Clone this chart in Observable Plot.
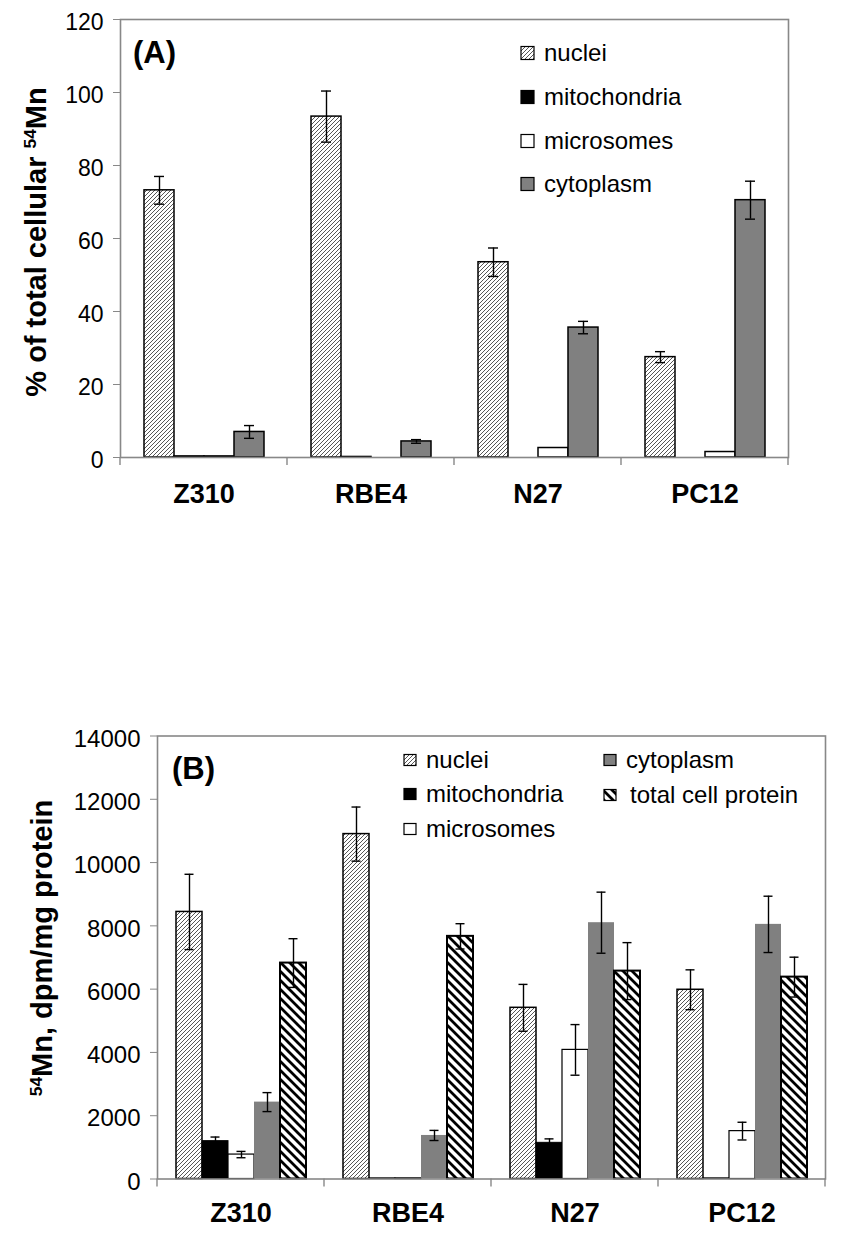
<!DOCTYPE html>
<html><head><meta charset="utf-8">
<script src="https://cdn.jsdelivr.net/npm/d3@7"></script>
<script src="https://cdn.jsdelivr.net/npm/@observablehq/plot@0.6"></script>
<style>
html,body{margin:0;padding:0;background:#fff}
body{width:850px;height:1251px;position:relative;overflow:hidden;font-family:"Liberation Sans",Arial,sans-serif}
#panelA{position:absolute;left:0;top:0}
#panelB{position:absolute;left:0;top:700px}
</style></head><body>
<svg width="0" height="0" style="position:absolute">
<defs>
<pattern id="hatchNuclei" patternUnits="userSpaceOnUse" width="4" height="4">
<rect width="4" height="4" fill="#fff"/>
<path d="M-1,1 l2,-2 M0,4 l4,-4 M3,5 l2,-2" stroke="#444" stroke-width="0.9"/>
</pattern>
<pattern id="hatchTotal" patternUnits="userSpaceOnUse" width="9" height="9">
<rect width="9" height="9" fill="#fff"/>
<path d="M0,0 l9,9 M-2,7 l4,4 M7,-2 l4,4" stroke="#000" stroke-width="2.8"/>
</pattern>
</defs></svg>
<div id="panelA"></div>
<div id="panelB"></div>
<script>
// ---------- data ----------
const categories = ["Z310", "RBE4", "N27", "PC12"];

// Panel A: % of total cellular 54Mn
const seriesA = ["nuclei", "mitochondria", "microsomes", "cytoplasm"];
const nucleiA = [73.2, 93.4, 53.5, 27.5];
const nucleiAErr = [3.8, 7.0, 3.9, 1.5];
const mitoA = [0.3, 0.15, null, null];
const microA = [0.3, null, 2.6, 1.5];
const cytoA = [7.0, 4.4, 35.6, 70.5];
const cytoAErr = [1.75, 0.5, 1.7, 5.2];
const yTicksA = [0, 20, 40, 60, 80, 100, 120];

// Panel B: 54Mn, dpm/mg protein
const seriesB = ["nuclei", "mitochondria", "microsomes", "cytoplasm", "total cell protein"];
const nucleiB = [8440, 10900, 5410, 5980];
const nucleiBErr = [1190, 855, 740, 630];
const mitoB = [1196, 20, 1143, 20];
const mitoBErr = [130, null, 125, null];
const microB = [772, 20, 4080, 1513];
const microBErr = [100, null, 800, 280];
const cytoB = [2430, 1376, 8100, 8047];
const cytoBErr = [300, 160, 965, 890];
const totalB = [6824, 7668, 6570, 6380];
const totalBErr = [770, 400, 900, 630];
const yTicksB = [0, 2000, 4000, 6000, 8000, 10000, 12000, 14000];

// ---------- helpers ----------
function rows(name, values, errs) {
  return categories.map((c, i) => ({cat: c, series: name, value: values[i], err: errs ? errs[i] : null}))
    .filter(d => d.value != null);
}

const FONT = '"Liberation Sans", Arial, sans-serif';

function panel(cfg) {
  const marks = [];
  for (const g of cfg.groups) {
    marks.push(Plot.barY(g.rows, {fx: "cat", x: "series", y: "value", fill: g.fill,
      stroke: g.stroke || "none", strokeWidth: g.sw || 0}));
  }
  const withErr = cfg.groups.flatMap(g => g.rows).filter(d => d.err != null);
  marks.push(Plot.ruleX(withErr, {fx: "cat", x: "series", y1: d => d.value - d.err, y2: d => d.value + d.err, stroke: "black", strokeWidth: 1.4}));
  marks.push(Plot.tickY(withErr, {fx: "cat", x: "series", y: d => d.value + d.err, stroke: "black", strokeWidth: 1.4, insetLeft: cfg.capInset, insetRight: cfg.capInset}));
  marks.push(Plot.tickY(withErr, {fx: "cat", x: "series", y: d => d.value - d.err, stroke: "black", strokeWidth: 1.4, insetLeft: cfg.capInset, insetRight: cfg.capInset}));
  marks.push(Plot.frame({stroke: "#888", strokeWidth: 1.6, facet: "super"}));
  marks.push(Plot.axisY({ticks: cfg.yTicks, tickSize: 7, tickPadding: 10, tickFormat: d => String(d),
    stroke: "#888", fill: "black", fontSize: cfg.tickFont, label: null}));
  marks.push(Plot.axisFx({anchor: "bottom", tickSize: 0, tickPadding: cfg.labelPad, label: null,
    fontSize: 27, fontWeight: "bold", fill: "black"}));
  const plot = Plot.plot({
    width: 850, height: cfg.height,
    marginTop: cfg.mt, marginBottom: cfg.mb, marginLeft: cfg.ml, marginRight: cfg.mr,
    fx: {domain: categories, padding: 0},
    x: {domain: cfg.series, paddingInner: 0, paddingOuter: cfg.padOuter, axis: null},
    y: {domain: [0, cfg.yMax]},
    style: {fontFamily: FONT, color: "black", background: "white", overflow: "visible"},
    marks
  });
  const svg = d3.select(plot);
  const fx = plot.scale("fx");
  const y = plot.scale("y");
  const y0 = y.apply(0);
  const edges = categories.map(c => fx.apply(c));
  edges.push(fx.apply(categories[categories.length - 1]) + fx.bandwidth);
  svg.append("g").selectAll("line").data(edges).join("line")
    .attr("x1", d => d).attr("x2", d => d).attr("y1", y0).attr("y2", y0 + 8)
    .attr("stroke", "#888").attr("stroke-width", 1.4);
  // category labels: bold, large
  svg.selectAll("text").filter(function() { return categories.includes(this.textContent); })
    .style("font-size", "27px").style("font-weight", "bold");
  // y tick labels sit slightly below their ticks, as in the original
  const tickStrings = cfg.yTicks.map(String);
  svg.selectAll("text").filter(function() { return tickStrings.includes(this.textContent); })
    .attr("dy", "3px");
  return {plot, svg};
}

function yTitle(svg, x, y, size, parts) {
  const t = svg.append("text")
    .attr("transform", `translate(${x},${y}) rotate(-90)`)
    .attr("text-anchor", "middle").attr("dy", "0.35em")
    .attr("font-family", FONT).attr("font-weight", "bold").attr("font-size", size).attr("fill", "black");
  for (const p of parts) {
    const s = t.append("tspan").text(p.text);
    if (p.sup) s.attr("font-size", size * 0.6).attr("baseline-shift", "super");
  }
}

function legend(svg, items, fontSize) {
  for (const it of items) {
    svg.append("rect").attr("x", it.sx).attr("y", it.y - it.h / 2).attr("width", it.w).attr("height", it.h)
      .attr("fill", it.fill).attr("stroke", "black").attr("stroke-width", 1.2);
    svg.append("text").attr("x", it.tx).attr("y", it.y).attr("dy", "0.35em").attr("text-anchor", "start")
      .attr("font-family", FONT).attr("font-size", fontSize).attr("fill", "black").text(it.label);
  }
}

function panelLabel(svg, x, y, text) {
  svg.append("text").attr("x", x).attr("y", y).attr("dy", "0.35em").attr("text-anchor", "start")
    .attr("font-family", FONT).attr("font-weight", "bold").attr("font-size", 31).attr("fill", "black").text(text);
}

// ---------- Panel A ----------
const A = panel({
  height: 520, mt: 19, mb: 63, ml: 119, mr: 61,
  series: seriesA, yMax: 120, yTicks: yTicksA, padOuter: 0.735, capInset: 10,
  tickFont: 23, labelPad: 26,
  groups: [
    {rows: rows("nuclei", nucleiA, nucleiAErr), fill: "url(#hatchNuclei)", stroke: "black", sw: 1.5},
    {rows: rows("mitochondria", mitoA), fill: "black", stroke: "black", sw: 1.5},
    {rows: rows("microsomes", microA), fill: "white", stroke: "black", sw: 1.5},
    {rows: rows("cytoplasm", cytoA, cytoAErr), fill: "#808080", stroke: "black", sw: 1.5}
  ]
});
panelLabel(A.svg, 133, 52, "(A)");
yTitle(A.svg, 36, 242, 29, [{text: "% of total cellular "}, {text: "54", sup: true}, {text: "Mn"}]);
legend(A.svg, [
  {sx: 521, w: 13, h: 13, y: 53, tx: 544, fill: "url(#hatchNuclei)", label: seriesA[0]},
  {sx: 521, w: 13, h: 13, y: 97, tx: 544, fill: "black", label: seriesA[1]},
  {sx: 521, w: 13, h: 13, y: 141, tx: 544, fill: "white", label: seriesA[2]},
  {sx: 521, w: 13, h: 13, y: 184, tx: 544, fill: "#808080", label: seriesA[3]}
], 24);
document.getElementById("panelA").appendChild(A.plot);

// ---------- Panel B ----------
const B = panel({
  height: 551, mt: 35.5, mb: 72.5, ml: 157, mr: 25,
  series: seriesB, yMax: 14000, yTicks: yTicksB, padOuter: 0.71, capInset: 8.5,
  tickFont: 24, labelPad: 24,
  groups: [
    {rows: rows("nuclei", nucleiB, nucleiBErr), fill: "url(#hatchNuclei)", stroke: "black", sw: 1.5},
    {rows: rows("mitochondria", mitoB, mitoBErr), fill: "black", stroke: "black", sw: 1},
    {rows: rows("microsomes", microB, microBErr), fill: "white", stroke: "black", sw: 1.2},
    {rows: rows("cytoplasm", cytoB, cytoBErr), fill: "#808080"},
    {rows: rows("total cell protein", totalB, totalBErr), fill: "url(#hatchTotal)", stroke: "black", sw: 2}
  ]
});
panelLabel(B.svg, 172, 68, "(B)");
yTitle(B.svg, 42, 248, 29, [{text: "54", sup: true}, {text: "Mn, dpm/mg protein"}]);
legend(B.svg, [
  {sx: 404, w: 12, h: 11, y: 60, tx: 426, fill: "url(#hatchNuclei)", label: seriesB[0]},
  {sx: 404, w: 12, h: 11, y: 94, tx: 426, fill: "black", label: seriesB[1]},
  {sx: 404, w: 12, h: 11, y: 129, tx: 426, fill: "white", label: seriesB[2]},
  {sx: 604, w: 12, h: 11, y: 60, tx: 626, fill: "#808080", label: seriesB[3]},
  {sx: 604, w: 12, h: 11, y: 95, tx: 630, fill: "url(#hatchTotal)", label: seriesB[4]}
], 24);
document.getElementById("panelB").appendChild(B.plot);
</script>
</body></html>
